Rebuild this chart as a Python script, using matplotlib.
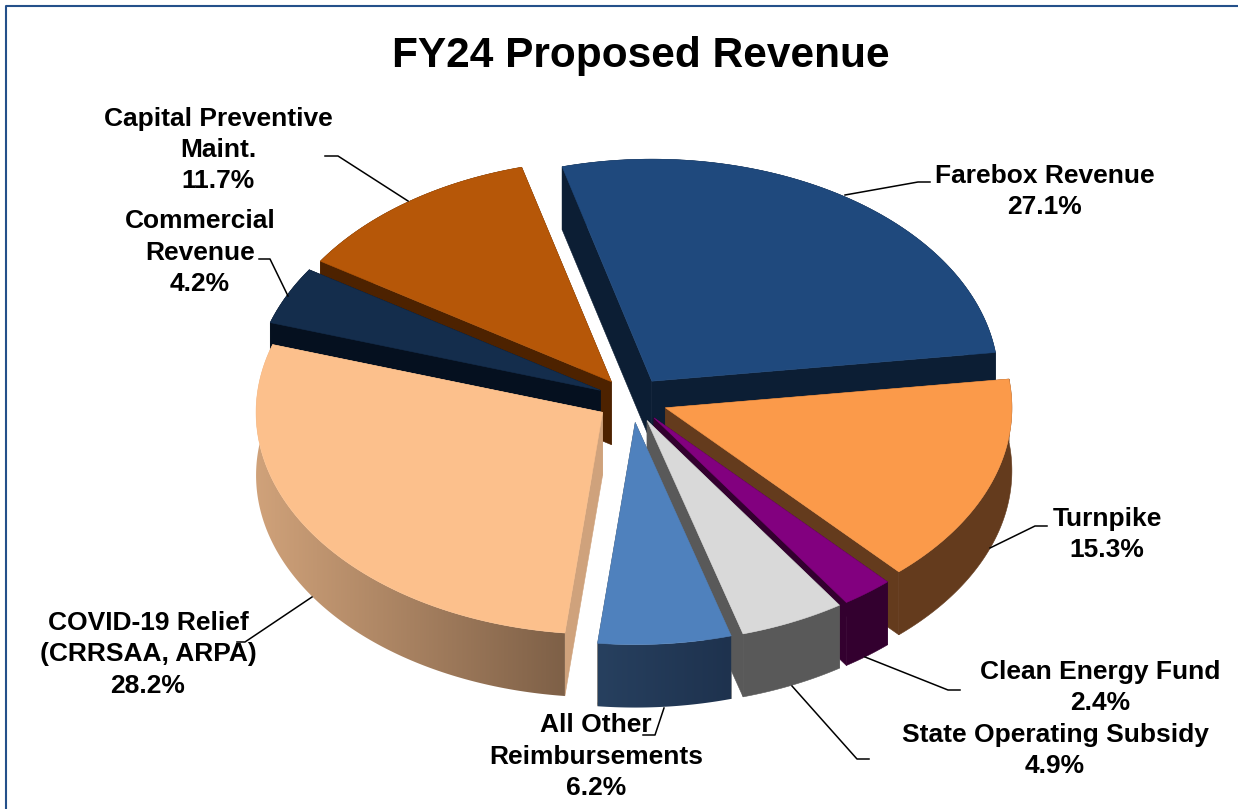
import numpy as np
import matplotlib
matplotlib.use('Agg')
import matplotlib.pyplot as plt
from matplotlib.colors import to_rgb
from matplotlib.patches import Polygon

plt.rcParams['font.family'] = ['Liberation Sans', 'DejaVu Sans']

# slices, clockwise, starting from the Farebox slice
shares = [27.1, 15.3, 2.4, 4.9, 6.2, 28.2, 4.2, 11.7]
top_colors = ['#1f497d', '#fb9a4a', '#82007f', '#d9d9d9', '#4f81bd', '#fcc08c', '#142d4c', '#b65708']
# outer wall colour at the left and right end of the slice, then the flat cut faces
wall_left = ['#0c1e34', '#643b1d', '#33002f', '#595959', '#27405f', '#d0a27a', '#05101f', '#4d2200']
wall_right = ['#0c1e34', '#643b1d', '#33002f', '#595959', '#1e324e', '#7e6047', '#05101f', '#4d2200']
cut_colors = ['#0c1e34', '#643b1d', '#33002f', '#595959', '#595959', '#cfa27c', '#05101f', '#4d2200']

title = 'FY24 Proposed Revenue'
slice_labels = ['Farebox Revenue\n27.1%', 'Turnpike\n15.3%', 'Clean Energy Fund\n2.4%',
                'State Operating Subsidy\n4.9%', 'All Other\nReimbursements\n6.2%',
                'COVID-19 Relief\n(CRRSAA, ARPA)\n28.2%', 'Commercial\nRevenue\n4.2%',
                'Capital Preventive\nMaint.\n11.7%']
label_pos = [(1044.5, 191.5), (1107, 534.5), (1100.5, 687.5), (1055, 750.5), (596, 756.5),
             (148, 654.5), (200, 252.5), (218, 150)]
leaders = [[(845, 195), (918, 182), (930, 182)],
           [(990, 548), (1035, 526), (1047, 526)],
           [(865, 657), (948, 690), (960, 690)],
           [(792, 686), (857, 759), (869, 759)],
           [(664, 708), (655, 735), (643, 735)],
           [(312, 597), (245, 642), (237, 642)],
           [(288, 296), (270, 259), (259, 259)],
           [(408, 201), (338, 156), (325, 156)]]

# pie geometry in pixels
cx, cy = 632.2, 400
rx, ry = 346.5, 222
explode = 0.102
start_angle = -15
pie_depth = 63


def rim(apex, t):
    rad = np.radians(t)
    return apex[0] + rx * np.sin(rad), apex[1] - ry * np.cos(rad)


def extrude(pt):
    return pt[0], pt[1] + pie_depth


fig = plt.figure(figsize=(12.38, 8.09), dpi=100)
ax = fig.add_axes([0, 0, 1, 1])

# chart border
ax.plot([6, 6, 1238], [809, 6, 6], color='#24508a', lw=1.5, zorder=1)

edges = start_angle + np.concatenate([[0], np.cumsum(shares)]) * 3.6

# far slices first, so the near ones paint over them
mids = (edges[:-1] + edges[1:]) / 2
order = sorted(range(len(shares)), key=lambda i: np.cos(np.radians(mids[i])), reverse=True)

z = 2
for i in order:
    m = np.radians(mids[i])
    apex = (cx + explode * rx * np.sin(m), cy - explode * ry * np.cos(m))
    ts = np.linspace(edges[i], edges[i + 1], 120)
    arc = [rim(apex, t) for t in ts]

    # flat cut faces
    for end in (arc[0], arc[-1]):
        quad = [apex, end, extrude(end), extrude(apex)]
        ax.add_patch(Polygon(quad, closed=True, fc=cut_colors[i], ec=cut_colors[i], lw=0.4, zorder=z))
        z += 1

    # outer wall
    wall = arc + [extrude(p) for p in arc[::-1]]
    if wall_left[i] == wall_right[i]:
        ax.add_patch(Polygon(wall, closed=True, fc=wall_left[i], ec=wall_left[i], lw=0.4, zorder=z))
    else:
        xs, ys = zip(*wall)
        grad = np.linspace(to_rgb(wall_left[i]), to_rgb(wall_right[i]), 256)[np.newaxis, :, :]
        im = ax.imshow(grad, extent=(min(xs), max(xs), max(ys), min(ys)), aspect='auto',
                       interpolation='bilinear', zorder=z)
        im.set_clip_path(Polygon(wall, closed=True, transform=ax.transData))
    z += 1

    # top face
    ax.add_patch(Polygon([apex] + arc, closed=True, fc=top_colors[i], ec=top_colors[i], lw=0.4, zorder=z))
    z += 1

for pts in leaders:
    xs, ys = zip(*pts)
    ax.plot(xs, ys, color='black', lw=1.1, zorder=z)
z += 1

for text, (x, y) in zip(slice_labels, label_pos):
    ax.text(x, y, text, ha='center', va='center', fontsize=19, fontweight='bold',
            linespacing=1.37, color='black', zorder=z)

ax.text(640.5, 56, title, ha='center', va='center', fontsize=30.5, fontweight='bold', color='black', zorder=z)

ax.set_xlim(0, 1238)
ax.set_ylim(809, 0)
ax.axis('off')

fig.savefig('out.png', dpi=100)
